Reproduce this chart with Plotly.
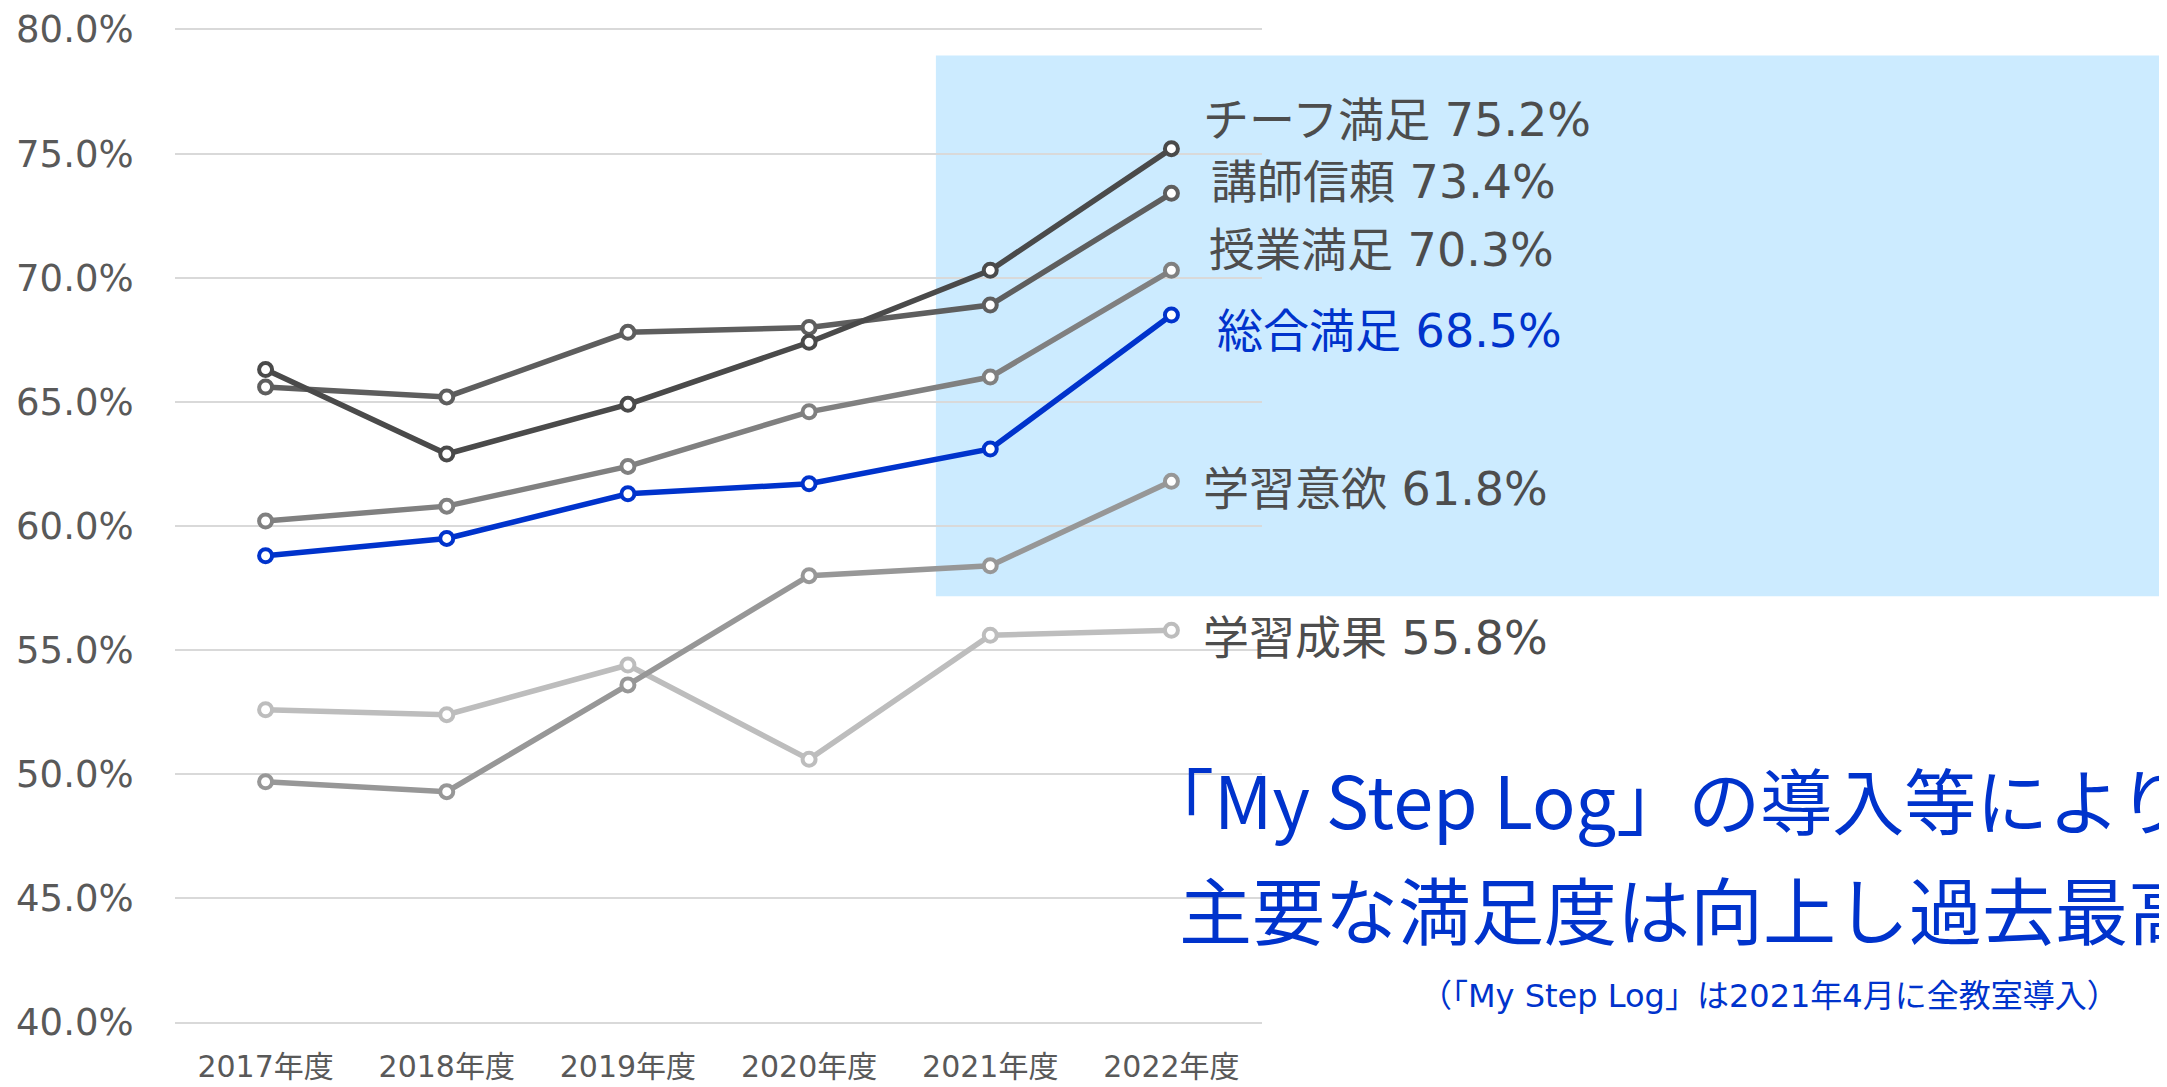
import plotly.graph_objects as go

years = ["2017年度", "2018年度", "2019年度", "2020年度", "2021年度", "2022年度"]
y_ticks = [40, 45, 50, 55, 60, 65, 70, 75, 80]

names = ["チーフ満足", "講師信頼", "授業満足", "総合満足", "学習意欲", "学習成果"]
chief = [66.3, 62.9, 64.9, 67.4, 70.3, 75.2]
teacher = [65.6, 65.2, 67.8, 68.0, 68.9, 73.4]
lesson = [60.2, 60.8, 62.4, 64.6, 66.0, 70.3]
overall = [58.8, 59.5, 61.3, 61.7, 63.1, 68.5]
motivation = [49.7, 49.3, 53.6, 58.0, 58.4, 61.8]
outcome = [52.6, 52.4, 54.4, 50.6, 55.6, 55.8]
series = [chief, teacher, lesson, overall, motivation, outcome]

headline1 = "「My Step Log」の導入等により"
headline2 = "主要な満足度は向上し過去最高"
note = "（「My Step Log」は2021年4月に全教室導入）"

BLUE = "#0033CC"
line_colors = ["#4a4a4a", "#5e5e5e", "#808080", BLUE, "#979797", "#bdbdbd"]
label_colors = ["#4d4d4d", "#4d4d4d", "#4d4d4d", BLUE, "#4d4d4d", "#4d4d4d"]
label_xshift = [30, 38, 36, 44, 30, 30]
label_yshift = [29, 11, 20, -16, -8, -8]
FONT = "Noto Sans CJK JP"
FONT_MIX = "DejaVu Sans, Noto Sans CJK JP"

fig = go.Figure()
order = [5, 4, 2, 1, 0, 3]
for i in order:
    fig.add_trace(go.Scatter(
        x=list(range(len(years))), y=series[i], name=names[i], mode="lines+markers",
        line=dict(color=line_colors[i], width=5.5),
        marker=dict(size=13, color="white", line=dict(color=line_colors[i], width=4)),
        cliponaxis=False, showlegend=False,
    ))

for i in range(len(names)):
    fig.add_annotation(
        x=len(years) - 1, y=series[i][-1], xref="x", yref="y",
        text=f"{names[i]} {series[i][-1]:.1f}%", showarrow=False,
        xanchor="left", yanchor="middle", xshift=label_xshift[i], yshift=label_yshift[i],
        font=dict(family=FONT_MIX, size=46, color=label_colors[i]),
    )

fig.add_shape(type="rect", xref="paper", yref="paper", x0=0.700, x1=1.84, y0=0.4295, y1=0.9725,
              fillcolor="#CCEBFF", line=dict(width=0), layer="below")

fig.add_annotation(x=0.888, y=0.2275, xref="paper", yref="paper", text=headline1, showarrow=False,
                   xanchor="left", yanchor="middle", font=dict(family=FONT, size=72, color=BLUE))
fig.add_annotation(x=0.922, y=0.117, xref="paper", yref="paper", text=headline2, showarrow=False,
                   xanchor="left", yanchor="middle", font=dict(family=FONT, size=73, color=BLUE))
fig.add_annotation(x=1.1436, y=0.0285, xref="paper", yref="paper", text=note, showarrow=False,
                   xanchor="left", yanchor="middle", font=dict(family=FONT_MIX, size=32, color=BLUE))

# page body has an 8px default margin: shrink the figure so the plot area lands where intended
fig.update_layout(
    width=2159, height=1079,
    margin=dict(l=167, r=905, t=20, b=63),
    plot_bgcolor="rgba(0,0,0,0)", paper_bgcolor="white",
    font=dict(family=FONT_MIX, color="#595959"),
    showlegend=False,
)
fig.update_xaxes(
    tickmode="array", tickvals=list(range(len(years))), ticktext=years,
    range=[-0.5, len(years) - 0.5], showgrid=False, zeroline=False, showline=False,
    ticks="outside", ticklen=16, tickcolor="rgba(0,0,0,0)", automargin=False,
    ticklabeloverflow="allow",
    tickfont=dict(family=FONT_MIX, size=30, color="#595959"),
)
fig.update_yaxes(
    range=[39.94, 80.06], tickmode="array", tickvals=y_ticks,
    ticktext=[f"{v:.1f}%" for v in y_ticks],
    showgrid=True, gridcolor="#d9d9d9", gridwidth=2, zeroline=False, showline=False,
    ticks="outside", ticklen=33, tickcolor="rgba(0,0,0,0)", automargin=False,
    ticklabeloverflow="allow",
    tickfont=dict(family=FONT_MIX, size=37, color="#595959"),
)

fig.write_html("out.html")
